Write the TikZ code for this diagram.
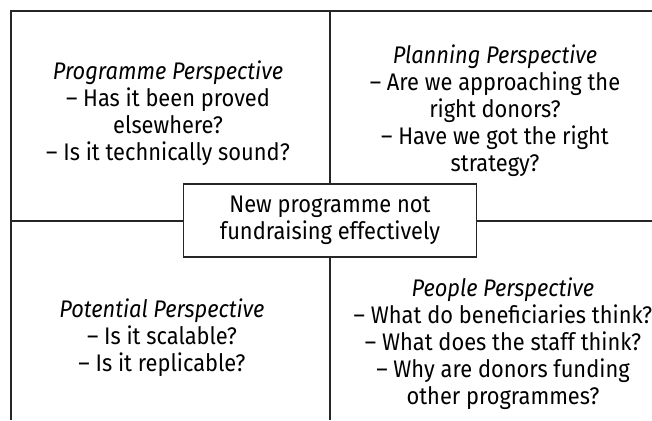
\documentclass[tikz,border=0pt]{standalone}
\usepackage{fontspec}
\setmainfont{Fira Sans}[FakeStretch=0.91]
\begin{document}
\begin{tikzpicture}[x=1pt,y=-1pt,
  line/.style={draw=black!85,line width=1.1pt},
  txt/.style={align=center,inner sep=0pt,font=\fontsize{24}{27}\selectfont},
  ctr/.style={draw=black!85,line width=1.1pt,fill=white,minimum width=293pt,minimum height=73pt,align=center,inner sep=0pt,font=\fontsize{24}{27}\selectfont}]
\useasboundingbox (0,0) rectangle (652,420);
\coordinate (tl) at (11,11);
\coordinate (tr) at (652,11);
\coordinate (bl) at (11,420);
\coordinate (ml) at (11,221);
\coordinate (mr) at (652,221);
\coordinate (mt) at (330,11);
\coordinate (mb) at (330,420);
\node[ctr] (c) at (330,220.5) {New programme not\\fundraising effectively};
\draw[line] (tr) -- (tl) -- (bl);
\draw[line] (ml) -- (c.west |- ml);
\draw[line] (c.east |- mr) -- (mr);
\draw[line] (mt) -- (c.north -| mt);
\draw[line] (c.south -| mb) -- (mb);
\node[txt] (q1) at (168,113.5) {\textit{Programme Perspective}\\– Has it been proved\\elsewhere?\\– Is it technically sound?};
\node[txt] (q2) at (495,110.5) {\textit{Planning Perspective}\\– Are we approaching the\\right donors?\\– Have we got the right\\strategy?};
\node[txt] (q3) at (162,338) {\textit{Potential Perspective}\\– Is it scalable?\\– Is it replicable?};
\node[txt] (q4) at (503,344) {\textit{People Perspective}\\– What do beneficiaries think?\\– What does the staff think?\\– Why are donors funding\\other programmes?};
\end{tikzpicture}
\end{document}
